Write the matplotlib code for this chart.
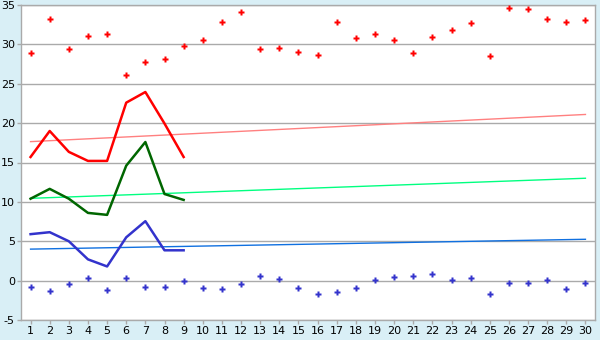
import matplotlib
matplotlib.use("Agg")
import matplotlib.pyplot as plt

plt.rcParams["axes.unicode_minus"] = False

days = list(range(1, 31))

# daily scatter values
red_points = [28.85, 33.2, 29.4, 31.1, 31.3, 26.05, 27.8, 28.2, 29.75, 30.5,
              32.8, 34.1, 29.4, 29.6, 29.0, 28.6, 32.8, 30.75, 31.3, 30.6,
              28.85, 31.0, 31.8, 32.7, 28.5, 34.6, 34.45, 33.2, 32.9, 33.05]
blue_points = [-0.76, -1.27, -0.38, 0.38, -1.15, 0.38, -0.76, -0.76, 0.0, -0.89,
               -1.0, -0.38, 0.64, 0.25, -0.89, -1.65, -1.4, -0.89, 0.13, 0.5,
               0.64, 0.89, 0.13, 0.38, -1.65, -0.25, -0.25, 0.13, -1.0, -0.25]

# lines for the first nine days
line_days = list(range(1, 10))
red_line = [15.7, 19.0, 16.35, 15.2, 15.2, 22.6, 23.95, 19.95, 15.7]
green_line = [10.4, 11.65, 10.4, 8.6, 8.35, 14.6, 17.6, 11.0, 10.25]
blue_line = [5.9, 6.15, 5.0, 2.7, 1.8, 5.5, 7.55, 3.85, 3.85]

# trend lines (start / end)
trend_days = [1, 30]
red_trend = [17.65, 21.1]
green_trend = [10.45, 13.0]
blue_trend = [4.0, 5.25]

bg = "#d9eff6"
grid_col = "#aaaaaa"

fig = plt.figure(figsize=(6, 3.4), dpi=100, facecolor=bg)
ax = fig.add_axes([21 / 600, 20 / 340, 574 / 600, 315 / 340])
ax.set_facecolor("white")

for y in range(-5, 36, 5):
    ax.axhline(y, color=grid_col, lw=1, zorder=1)

ax.plot(trend_days, red_trend, color="#ff8080", lw=1, zorder=2)
ax.plot(trend_days, green_trend, color="#00ff80", lw=1, zorder=2)
ax.plot(trend_days, blue_trend, color="#1070e0", lw=1, zorder=2)

ax.plot(line_days, red_line, color="#ff0000", lw=1.8, zorder=3)
ax.plot(line_days, green_line, color="#006600", lw=1.8, zorder=3)
ax.plot(line_days, blue_line, color="#3333cc", lw=1.8, zorder=3)

ax.plot(days, red_points, ls="none", marker="P", ms=4.5, color="#ff0000",
        mec="none", zorder=4)
ax.plot(days, blue_points, ls="none", marker="P", ms=4.5, color="#3333cc",
        mec="none", zorder=4)

ax.set_xlim(0.5, 30.5)
ax.set_ylim(-5, 35)
ax.set_xticks(days)
ax.set_yticks(range(-5, 36, 5))

for s in ["top", "right", "left", "bottom"]:
    ax.spines[s].set_color(grid_col)
    ax.spines[s].set_linewidth(1)

ax.tick_params(axis="both", color=grid_col, labelcolor="black",
               labelsize=8, length=3, width=1, pad=1.5)

fig.savefig("out.png", dpi=100, facecolor=bg)
